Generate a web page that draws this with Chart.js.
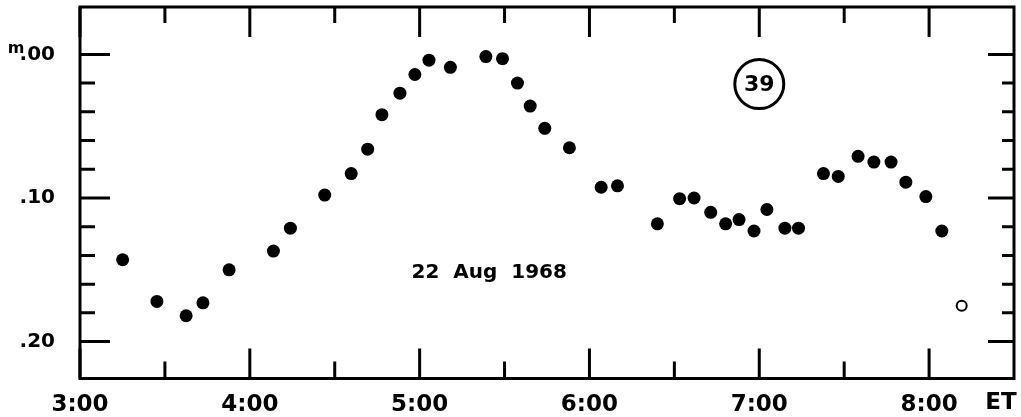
<!DOCTYPE html>
<html>
<head>
<meta charset="utf-8">
<script src="https://cdn.jsdelivr.net/npm/chart.js@4.4.0/dist/chart.umd.min.js"></script>
<style>
    html, body { margin: 0; padding: 0; background: #fff; }
    #wrap { width: 1021px; height: 417px; }
</style>
</head>
<body>
<div id="wrap"><canvas id="light-curve"></canvas></div>
<script>
(function () {
    "use strict";

    // ephemeris time (decimal hours) and magnitude
    const times = [3.251, 3.453, 3.625, 3.724, 3.878, 4.139, 4.239, 4.441, 4.597, 4.694,
                   4.778, 4.884, 4.972, 5.055, 5.181, 5.390, 5.488, 5.576, 5.651, 5.737,
                   5.882, 6.069, 6.165, 6.400, 6.531, 6.616, 6.714, 6.802, 6.881, 6.969,
                   7.045, 7.151, 7.231, 7.378, 7.465, 7.582, 7.675, 7.776, 7.863, 7.981,
                   8.075];
    const mags = [0.143, 0.172, 0.182, 0.173, 0.150, 0.137, 0.121, 0.098, 0.083, 0.066,
                  0.042, 0.027, 0.014, 0.004, 0.009, 0.0015, 0.003, 0.020, 0.036, 0.0515,
                  0.065, 0.0925, 0.0915, 0.118, 0.1005, 0.100, 0.110, 0.118, 0.115, 0.123,
                  0.108, 0.121, 0.121, 0.083, 0.085, 0.071, 0.075, 0.075, 0.089, 0.099,
                  0.123];

    // the single open-circle point
    const openTimes = [8.192];
    const openMags = [0.175];

    const xTicks = [3, 3.5, 4, 4.5, 5, 5.5, 6, 6.5, 7, 7.5, 8];
    const yTicks = [0, 0.02, 0.04, 0.06, 0.08, 0.10, 0.12, 0.14, 0.16, 0.18, 0.20];
    const yLabels = { 0: '.00', 10: '.10', 20: '.20' };

    const dateText = '22  Aug  1968';
    const dateAt = [5.41, 0.152];
    const plateText = '39';
    const plateAt = [7.0, 0.0207];

    const FONT = "'DejaVu Sans', sans-serif";

    function isMajorY(v) {
        return Math.round(v * 100) % 10 === 0;
    }

    // inward tick marks, frame and the free-floating texts
    const frameTicks = {
        id: 'frameTicks',
        afterDraw(chart) {
            const ctx = chart.ctx;
            const a = chart.chartArea;
            const x = chart.scales.x;
            const y = chart.scales.y;

            ctx.save();
            ctx.strokeStyle = '#000';
            ctx.lineWidth = 3;
            ctx.strokeRect(a.left, a.top, a.right - a.left, a.bottom - a.top);

            ctx.beginPath();
            xTicks.forEach(function (v) {
                var px = x.getPixelForValue(v);
                var major = Number.isInteger(v);
                ctx.moveTo(px, a.bottom);
                ctx.lineTo(px, a.bottom - (major ? 30 : 17));
                ctx.moveTo(px, a.top);
                ctx.lineTo(px, a.top + (major ? 30 : 16));
            });
            yTicks.forEach(function (v) {
                var py = y.getPixelForValue(v);
                var major = isMajorY(v);
                ctx.moveTo(a.left, py);
                ctx.lineTo(a.left + (major ? 30 : 15), py);
                ctx.moveTo(a.right, py);
                ctx.lineTo(a.right - (major ? 26 : 12), py);
            });
            ctx.stroke();

            ctx.fillStyle = '#000';

            // superscript m beside .00
            ctx.font = 'bold 16px ' + FONT;
            ctx.textAlign = 'center';
            ctx.textBaseline = 'alphabetic';
            ctx.fillText('m', 16, y.getPixelForValue(0) - 1);

            // ET unit beside the hour labels
            ctx.font = 'bold 23px ' + FONT;
            ctx.textBaseline = 'middle';
            ctx.fillText('ET', a.right - 13, a.bottom + 25);

            // date
            ctx.font = 'bold 20px ' + FONT;
            ctx.fillText(dateText, x.getPixelForValue(dateAt[0]), y.getPixelForValue(dateAt[1]));

            // circled plate number
            var cx = x.getPixelForValue(plateAt[0]);
            var cy = y.getPixelForValue(plateAt[1]);
            ctx.beginPath();
            ctx.arc(cx, cy, 24.5, 0, Math.PI * 2);
            ctx.lineWidth = 3;
            ctx.stroke();
            ctx.font = 'bold 22px ' + FONT;
            ctx.fillText(plateText, cx, cy + 1);

            ctx.restore();
        }
    };

    const ctx = document.getElementById('light-curve').getContext('2d');
    new Chart(ctx, {
        type: 'scatter',
        data: {
            datasets: [{
                data: times.map((t, i) => ({ x: t, y: mags[i] })),
                backgroundColor: '#000',
                borderWidth: 0,
                pointRadius: 6.5
            }, {
                data: openTimes.map((t, i) => ({ x: t, y: openMags[i] })),
                backgroundColor: '#fff',
                borderColor: '#000',
                borderWidth: 2,
                pointRadius: 5
            }]
        },
        options: {
            responsive: true,
            maintainAspectRatio: false,
            animation: false,
            layout: { padding: { top: 6, right: 5.5, left: 0, bottom: 0 } },
            plugins: {
                legend: { display: false },
                tooltip: { enabled: false }
            },
            scales: {
                x: {
                    type: 'linear',
                    min: 3,
                    max: 8.5,
                    grid: { display: false },
                    border: { display: false },
                    afterBuildTicks: function (scale) {
                        scale.ticks = xTicks.map(value => ({ value: value }));
                    },
                    afterFit: function (scale) {
                        scale.height = 38.5;
                        scale.paddingLeft = 0;
                        scale.paddingRight = 0;
                    },
                    ticks: {
                        autoSkip: false,
                        maxRotation: 0,
                        padding: 5,
                        color: '#000',
                        font: { family: FONT, size: 23, weight: 'bold' },
                        callback: function (value) {
                            return Number.isInteger(value) ? value + ':00' : '';
                        }
                    }
                },
                y: {
                    type: 'linear',
                    reverse: true,
                    min: -0.033,
                    max: 0.2257,
                    grid: { display: false },
                    border: { display: false },
                    afterBuildTicks: function (scale) {
                        scale.ticks = yTicks.map(value => ({ value: value }));
                    },
                    afterFit: function (scale) {
                        scale.width = 80;
                        scale.paddingTop = 0;
                        scale.paddingBottom = 0;
                    },
                    ticks: {
                        autoSkip: false,
                        padding: 17,
                        color: '#000',
                        font: { family: FONT, size: 20, weight: 'bold' },
                        callback: function (value) {
                            var k = Math.round(value * 100);
                            return isMajorY(value) ? yLabels[k] : '';
                        }
                    }
                }
            }
        },
        plugins: [frameTicks]
    });

})();
</script>
</body>
</html>
